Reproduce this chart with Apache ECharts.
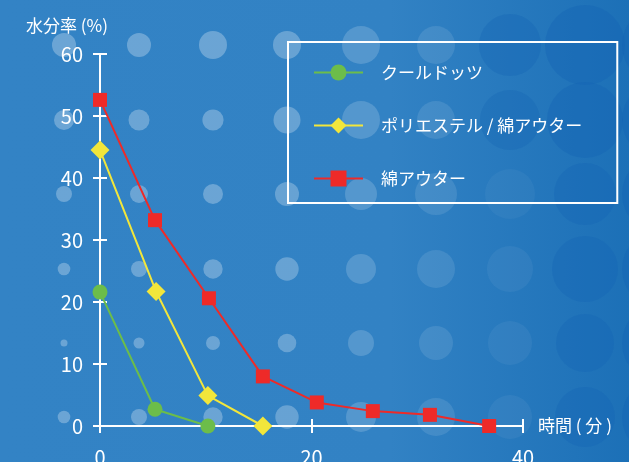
<!DOCTYPE html>
<html>
<head>
<meta charset="utf-8">
<script src="https://cdn.jsdelivr.net/npm/echarts@6/dist/echarts.min.js"></script>
<style>html,body{margin:0;padding:0;}#chart{width:629px;height:462px;}</style>
</head>
<body>
<div id="chart"></div>
<script>
// ---- data ----
const seriesNames = ['クールドッツ', 'ポリエステル / 綿アウター', '綿アウター'];
const coolDotsTime = [0, 5.2, 10.2];
const coolDotsMoisture = [21.6, 2.7, 0];
const polyTime = [0, 5.3, 10.2, 15.4];
const polyMoisture = [44.5, 21.7, 4.9, 0];
const cottonTime = [0, 5.2, 10.3, 15.4, 20.5, 25.8, 31.2, 36.8];
const cottonMoisture = [52.6, 33.2, 20.6, 8.0, 3.8, 2.4, 1.8, 0];
const xTicks = [0, 20, 40];
const yTicks = [0, 10, 20, 30, 40, 50, 60];
const xAxisName = '時間 ( 分 )';
const yAxisName = '水分率 (%)';

// ---- decorative background dots ----
const dotCols = [64, 139, 213, 287, 361, 436, 510, 585, 662];
const dotRows = [45, 120, 194, 269, 343, 417];
const dotRadii = [
  [12, 12, 14, 14, 19, 19, 31, 40, 40],
  [10, 10.5, 10.6, 13.5, 19, 19, 30, 38, 40],
  [8, 9, 10, 12, 16, 21, 25, 31, 40],
  [6.3, 8, 9.7, 11.7, 15, 19, 23, 33, 40],
  [3.5, 5.5, 7, 9.3, 13, 17, 22, 29, 40],
  [6.3, 8, 9.7, 11.7, 15, 19, 22, 30, 40]
];
const light = a => 'rgba(255,255,255,' + a + ')';
const dark = a => 'rgba(20,100,180,' + a + ')';
const dotFill = [
  [light(0.28), light(0.28), light(0.28), light(0.26), light(0.17), light(0.10), dark(0.35), dark(0.4), dark(0.4)],
  [light(0.28), light(0.28), light(0.28), light(0.26), light(0.17), light(0.10), dark(0.3), dark(0.4), dark(0.4)],
  [light(0.28), light(0.28), light(0.28), light(0.26), light(0.17), light(0.10), light(0.04), dark(0.35), dark(0.4)],
  [light(0.28), light(0.28), light(0.28), light(0.26), light(0.17), light(0.10), light(0.05), dark(0.35), dark(0.4)],
  [light(0.28), light(0.28), light(0.28), light(0.26), light(0.17), light(0.10), light(0.05), dark(0.35), dark(0.4)],
  [light(0.28), light(0.28), light(0.28), light(0.26), light(0.17), light(0.10), light(0.05), dark(0.35), dark(0.4)]
];

const pair = (xs, ys) => xs.map((x, i) => [x, ys[i]]);
const graphics = [];
dotRows.forEach((cy, r) => dotCols.forEach((cx, c) => {
  graphics.push({type: 'circle', z: -10, silent: true, shape: {cx: cx, cy: cy, r: dotRadii[r][c]}, style: {fill: dotFill[r][c]}});
}));

const font = "'Noto Sans CJK JP', 'Noto Sans', sans-serif";
const white = '#ffffff';
const axisCommon = {
  min: 0,
  axisLine: {show: true, lineStyle: {color: white, width: 2}},
  axisTick: {show: true, length: 7, lineStyle: {color: white, width: 2}},
  splitLine: {show: false}
};

const chart = echarts.init(document.getElementById('chart'));
chart.setOption({
  backgroundColor: {type: 'linear', x: 0, y: 0, x2: 1, y2: 0, colorStops: [
    {offset: 0, color: '#3383c5'}, {offset: 0.62, color: '#3282c4'}, {offset: 1, color: '#1c70b7'}]},
  textStyle: {fontFamily: font},
  animation: false,
  graphic: graphics,
  grid: {left: 100, right: 106, top: 54, bottom: 36, containLabel: false, outerBoundsMode: 'none'},
  legend: {
    orient: 'vertical', left: 288, top: 42,
    data: seriesNames,
    borderColor: white, borderWidth: 2,
    padding: [22, 35, 16, 25],
    itemWidth: 49, itemHeight: 20, itemGap: 36,
    textStyle: {color: white, fontSize: 17, fontFamily: font, padding: [0, 0, 0, 13]}
  },
  xAxis: [
    Object.assign({}, axisCommon, {
      type: 'value', max: xTicks[xTicks.length - 1], interval: xTicks[1] - xTicks[0],
      name: xAxisName, nameLocation: 'end', nameGap: 15,
      nameTextStyle: {color: white, fontSize: 17, fontFamily: font},
      axisLabel: {color: white, fontSize: 20, margin: 21, fontFamily: font}
    }),
    Object.assign({}, axisCommon, {
      type: 'value', max: xTicks[xTicks.length - 1], interval: xTicks[1] - xTicks[0],
      position: 'bottom', offset: 0,
      axisLine: {show: false}, axisLabel: {show: false},
      axisTick: {show: true, inside: true, length: 7, lineStyle: {color: white, width: 2}}
    })
  ],
  yAxis: [
    Object.assign({}, axisCommon, {
      type: 'value', max: yTicks[yTicks.length - 1], interval: yTicks[1] - yTicks[0],
      name: yAxisName, nameLocation: 'end', nameGap: 20,
      nameTextStyle: {color: white, fontSize: 17, fontFamily: font, align: 'right', padding: [0, -8, 0, 0]},
      axisLabel: {color: white, fontSize: 20, margin: 17, fontFamily: font}
    }),
    Object.assign({}, axisCommon, {
      type: 'value', max: yTicks[yTicks.length - 1], interval: yTicks[1] - yTicks[0],
      position: 'left', offset: 0,
      axisLine: {show: false}, axisLabel: {show: false},
      axisTick: {show: true, inside: true, length: 7, lineStyle: {color: white, width: 2}}
    })
  ],
  series: [
    {name: seriesNames[0], type: 'line', data: pair(coolDotsTime, coolDotsMoisture),
     symbol: 'circle', symbolSize: 15, color: '#6cbd4a', lineStyle: {width: 2}, itemStyle: {color: '#6cbd4a'}},
    {name: seriesNames[1], type: 'line', data: pair(polyTime, polyMoisture),
     symbol: 'diamond', symbolSize: 19, color: '#f2e63b', lineStyle: {width: 2}, itemStyle: {color: '#f2e63b'}},
    {name: seriesNames[2], type: 'line', data: pair(cottonTime, cottonMoisture),
     symbol: 'rect', symbolSize: 14, color: '#ee2a28', lineStyle: {width: 2}, itemStyle: {color: '#ee2a28'}}
  ]
});
</script>
</body>
</html>
